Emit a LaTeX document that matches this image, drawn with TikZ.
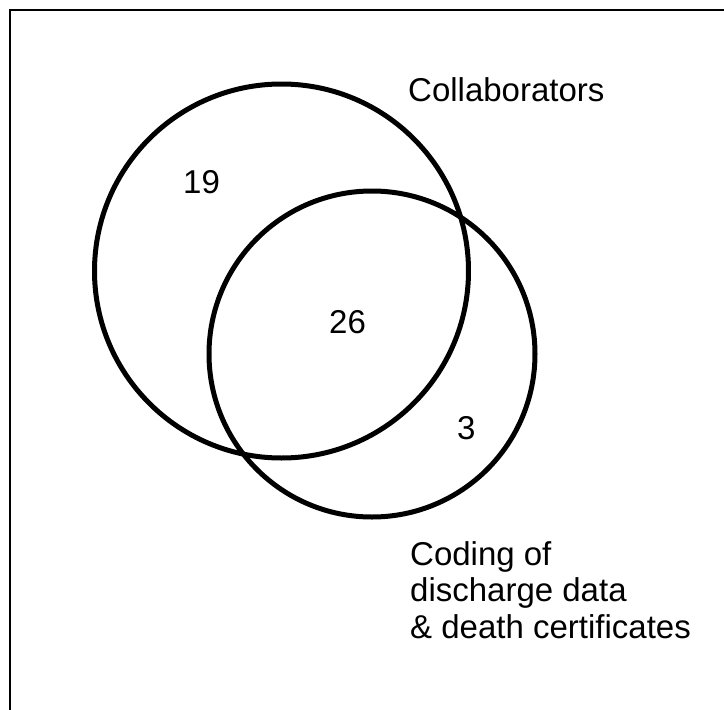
\documentclass[tikz,border=0pt]{standalone}
\usepackage{fontspec}
\setmainfont{Liberation Sans}
\usetikzlibrary{positioning}

\begin{document}
\begin{tikzpicture}[x=1pt, y=-1pt,
		venn/.style={circle, draw, line width=5pt, inner sep=0pt},
		count/.style={font=\fontsize{33}{38}\selectfont, inner sep=0pt, anchor=base west},
		setname/.style={font=\fontsize{33}{36.5}\selectfont, inner sep=0pt, align=left}]
		\useasboundingbox (0,0) rectangle (724,710);
		
		% frame, cut off at the right and bottom
		\draw [line width=2pt] (9.5,710) -- (9.5,9.5) -- (724,9.5);
		
		\node (collab) [venn, minimum size=374pt] at (281.5,271) {};
		\node (coding) [venn, minimum size=326pt] at (372,354) {};
		
		\node (n19) [count] at (183,193) {19};
		\node (n26) [count] at (329,333) {26};
		\node (n3) [count] at (457,439) {3};
		
		\node (lcollab) [setname, anchor=base west] at (408,101.5) {Collaborators};
		\node (lcoding) [setname, anchor=north west] at (410,541) {Coding of\\discharge data\\\& death certificates};
		
	\end{tikzpicture}
\end{document}
